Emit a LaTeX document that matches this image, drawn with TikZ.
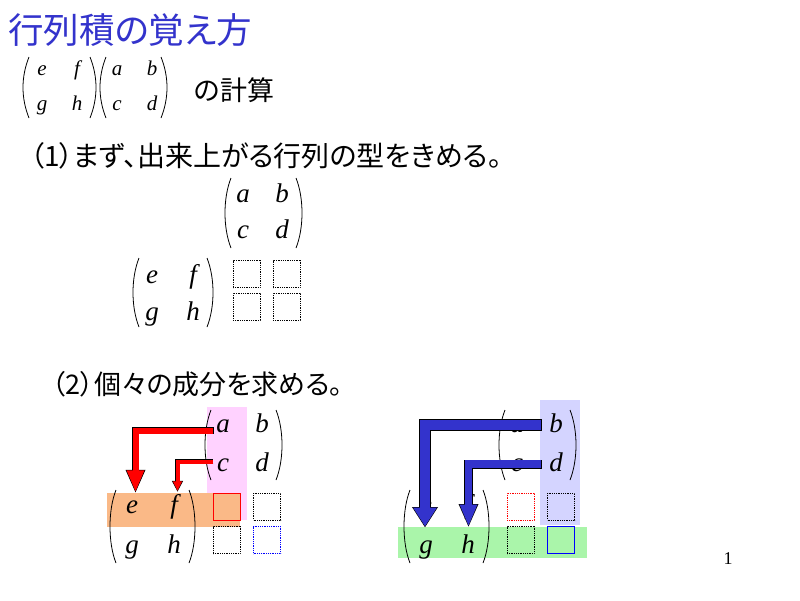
\documentclass[tikz,border=0pt]{standalone}
\usepackage{fontspec}
\setmainfont{Liberation Serif}
\newfontfamily\jp[RawFeature=+palt]{Noto Sans CJK JP}
\usetikzlibrary{arrows.meta}

\definecolor{titleblue}{RGB}{51,51,204}
\definecolor{bandpink}{RGB}{255,210,255}
\definecolor{bandorange}{RGB}{250,185,135}
\definecolor{bandblue}{RGB}{212,212,255}
\definecolor{bandgreen}{RGB}{170,245,170}

%% parentheses of a matrix: x of the bulge, top y, bottom y
\newcommand{\lpar}[3]{\draw[paren] ({#1+6},#2) .. controls ({#1-2},{#2+20}) and ({#1-2},{#3-20}) .. ({#1+6},#3);}
\newcommand{\rpar}[3]{\draw[paren] ({#1-6},#2) .. controls ({#1+2},{#2+20}) and ({#1+2},{#3-20}) .. ({#1-6},#3);}

\begin{document}
\begin{tikzpicture}
[x=1pt,y=-1pt,
  ent/.style={font=\fontsize{27}{27}\selectfont\itshape,inner sep=0pt,text height=11pt,text depth=0pt,anchor=base},%
  entsm/.style={ent,font=\fontsize{21}{21}\selectfont\itshape,text height=9pt},%
  paren/.style={line width=0.8pt},%
  jptext/.style={font=\jp\fontsize{28}{28}\selectfont,inner sep=0pt,anchor=west},%
  cell/.style={draw,densely dotted,line width=0.8pt,minimum size=27pt,inner sep=0pt},%
  redbig/.style={draw=red,line width=6pt,-{Triangle[length=22pt,width=16pt]},
    preaction={draw=black,line width=7.4pt,shorten >=-1pt,shorten <=-0.7pt,-{Triangle[length=23.5pt,width=18pt]}}},%
  redsmall/.style={draw=red,line width=4pt,-{Triangle[length=9.5pt,width=8.5pt]},
    preaction={draw=black,line width=5.2pt,shorten >=-1pt,shorten <=-0.6pt,-{Triangle[length=11pt,width=10.5pt]}}},%
  bluebig/.style={draw=titleblue,line width=10.2pt,-{Triangle[length=19pt,width=22.5pt]},
    preaction={draw=black,line width=11.6pt,shorten >=-1pt,shorten <=-0.7pt,-{Triangle[length=20.5pt,width=24.5pt]}}},%
  bluesmall/.style={draw=titleblue,line width=7.8pt,-{Triangle[length=22pt,width=16pt]},
    preaction={draw=black,line width=9.2pt,shorten >=-1pt,shorten <=-0.7pt,-{Triangle[length=23.5pt,width=18pt]}}}]
\useasboundingbox (0,0) rectangle (800,600);
\fill[white] (0,0) rectangle (800,600);

%% titles
\node[jptext,font=\jp\fontsize{35.5}{35.5}\selectfont,text=titleblue] (title) at (8,30) {行列積の覚え方};
\node[jptext,font=\jp\fontsize{27}{27}\selectfont] (calc) at (194,90) {の計算};
\node[jptext] (step1) at (30,156) {（1）まず、出来上がる行列の型をきめる。};
\node[jptext,font=\jp\fontsize{27}{27}\selectfont] (step2) at (52,384) {（2）個々の成分を求める。};

%% the product in the first line
\foreach \t/\x/\y in {e/42/75, f/77/75, g/42/110, h/77/110,
  a/117/75, b/152/75, c/117/110, d/152/110}
{
  \node[entsm] (t\t) at (\x,\y) {\t};
}
\lpar{23}{57}{118} \rpar{96}{57}{118}
\lpar{100}{57}{118} \rpar{167}{57}{118}

%% (1) shape of the result
\foreach \t/\x/\y in {a/243/202, b/282/202, c/243/238, d/282/238,
  e/152/283, f/193/283, g/152/320, h/193/320}
{
  \node[ent] (s\t) at (\x,\y) {\t};
}
\lpar{225}{178}{248} \rpar{302}{178}{248}
\lpar{133}{258}{327} \rpar{213}{258}{327}
\node[cell] (s11) at (246.5,274) {};
\node[cell] (s12) at (286.5,274) {};
\node[cell] (s21) at (246.5,306.5) {};
\node[cell] (s22) at (286.5,306.5) {};

%% (2) bands
\fill[bandpink] (207,407) rectangle (247,520);
\fill[bandorange] (107,493) rectangle (240,527);
\fill[bandblue] (540,400) rectangle (580,525);
\fill[bandgreen] (398,527) rectangle (587,558);

%% (2) cells
\node[cell,solid,draw=red] (l11) at (226.5,506.5) {};
\node[cell] (l12) at (267,506.5) {};
\node[cell] (l21) at (226.5,540) {};
\node[cell,draw=blue] (l22) at (267,540) {};
\node[cell,draw=red] (r11) at (520.5,506.5) {};
\node[cell] (r12) at (561,506.5) {};
\node[cell] (r21) at (520.5,540) {};
\node[cell,solid,draw=blue] (r22) at (561,540) {};

%% (2) matrices, left and right
\foreach \p/\dx in {l/0, r/294}
{
  \foreach \t/\x/\y in {a/223/432, b/262/432, c/223/471, d/262/471,
    e/132/513, f/174/513, g/132/553, h/174/553}
  {
    \node[ent] (\p\t) at ({\x+\dx},\y) {\t};
  }
  \lpar{205+\dx}{410}{480} \rpar{282+\dx}{410}{480}
  \lpar{110+\dx}{490}{563} \rpar{195+\dx}{490}{563}
}

%% arrows
\draw[redbig] ([xshift=-3pt,yshift=-4pt]la.west) -| ([xshift=3.5pt,yshift=9.5pt]le.north);
\draw[redsmall] ([xshift=-4pt,yshift=3.7pt]lc.west) -| ([xshift=3.5pt,yshift=11pt]lf.north);
\draw[bluebig] ([xshift=-8pt,yshift=1.5pt]rb.west) -| ([xshift=-1pt,yshift=15.3pt]rg.north);
\draw[bluesmall] ([xshift=-8pt,yshift=1.3pt]rd.west) -| ([xshift=0.5pt,yshift=15.3pt]rh.north);

\node[font=\fontsize{18}{18}\selectfont] (page) at (728,559) {1};
\end{tikzpicture}
\end{document}
